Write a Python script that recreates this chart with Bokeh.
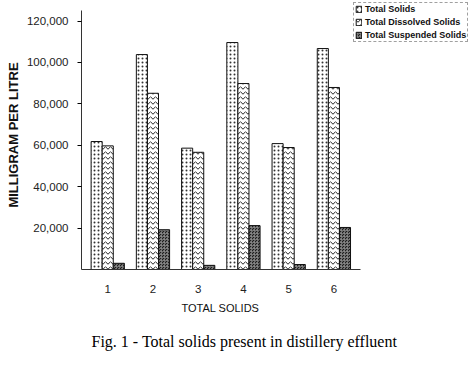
from bokeh.plotting import figure
from bokeh.models import (Range1d, FixedTicker, NumeralTickFormatter, Legend,
                          LegendItem, Title, ColumnDataSource)
from bokeh.transform import dodge
from bokeh.embed import file_html
from bokeh.resources import INLINE

samples = [1, 2, 3, 4, 5, 6]
total_solids = [61800, 103800, 58600, 109600, 60800, 106700]
dissolved_solids = [59700, 85100, 56600, 89800, 58900, 87900]
suspended_solids = [3000, 19200, 2000, 21200, 2400, 20300]
y_ticks = [20000, 40000, 60000, 80000, 100000, 120000]

src = ColumnDataSource(dict(x=samples, ts=total_solids, tds=dissolved_solids,
                            tss=suspended_solids))

# frame spans to the right/top canvas edges so the legend is not clipped;
# axis lines are limited with bounds
p = figure(width=472, height=365, output_backend="svg", toolbar_location=None,
           x_range=Range1d(0.42, 9.064), y_range=Range1d(0, 129900),
           min_border_left=81, min_border_right=0, min_border_top=0,
           min_border_bottom=96)
p.outline_line_color = None
p.grid.visible = False
p.background_fill_color = "white"
p.border_fill_color = "white"

w = 0.245
r1 = p.vbar(x=dodge("x", -0.245, range=p.x_range), top="ts", width=w, source=src,
            fill_color="white", line_color="#111", line_width=1,
            hatch_pattern="dot", hatch_color="#333", hatch_scale=4, hatch_weight=1)
r2 = p.vbar(x=dodge("x", 0.0, range=p.x_range), top="tds", width=w, source=src,
            fill_color="white", line_color="#111", line_width=1,
            hatch_pattern="horizontal_wave", hatch_color="#222", hatch_scale=5,
            hatch_weight=1)
r3 = p.vbar(x=dodge("x", 0.245, range=p.x_range), top="tss", width=w, source=src,
            fill_color="#1e1e1e", line_color="#111", line_width=1,
            hatch_pattern="criss_cross", hatch_color="#8a8a8a", hatch_scale=3,
            hatch_weight=0.7)

# axes
ya = p.yaxis[0]
ya.bounds = (0, 125000)
ya.ticker = FixedTicker(ticks=y_ticks)
ya.formatter = NumeralTickFormatter(format="0,0")
ya.major_tick_out = 4
ya.major_tick_in = 0
ya.minor_tick_out = 0
ya.minor_tick_in = 0
ya.major_label_standoff = 9
ya.major_label_text_font = "Liberation Sans"
ya.major_label_text_font_size = "11.5px"
ya.major_label_text_color = "#222"
ya.axis_label = "MILLIGRAM PER LITRE"
ya.axis_label_text_font = "Liberation Sans"
ya.axis_label_text_font_size = "13px"
ya.axis_label_text_font_style = "bold"
ya.axis_label_text_color = "#111"
ya.axis_label_standoff = 3
ya.axis_line_color = "#333"

xa = p.xaxis[0]
xa.bounds = (0.42, 6.58)
xa.ticker = FixedTicker(ticks=samples)
xa.major_tick_out = 0
xa.major_tick_in = 0
xa.minor_tick_out = 0
xa.minor_tick_in = 0
xa.major_label_standoff = 15
xa.major_label_text_font = "Liberation Sans"
xa.major_label_text_font_size = "11.5px"
xa.major_label_text_color = "#222"
xa.axis_line_color = "#333"

legend = Legend(items=[
    LegendItem(label="Total Solids", renderers=[r1]),
    LegendItem(label="Total Dissolved Solids", renderers=[r2]),
    LegendItem(label="Total Suspended Solids", renderers=[r3]),
], location=(272, 227))
legend.label_text_font = "Liberation Sans"
legend.label_text_font_size = "9px"
legend.label_text_font_style = "bold"
legend.label_text_color = "#111"
legend.glyph_width = 7
legend.glyph_height = 8
legend.label_height = 8
legend.label_standoff = 3
legend.spacing = 3
legend.padding = 1
legend.margin = 0
legend.border_line_color = "#444"
legend.border_line_dash = "2 2"
legend.background_fill_alpha = 0
p.add_layout(legend, "center")

xtitle = Title(text="TOTAL SOLIDS", align="left", offset=100,
               text_font="Liberation Sans", text_font_size="11px",
               text_font_style="normal", text_color="#111", standoff=9)
p.add_layout(xtitle, "below")

cap = Title(text="Fig. 1 - Total solids present in distillery effluent",
            align="left", offset=10, text_font="Liberation Serif",
            text_font_size="16px", text_font_style="normal", text_color="#000",
            standoff=25)
p.add_layout(cap, "below")

open("out.html", "w").write(file_html(p, INLINE))
